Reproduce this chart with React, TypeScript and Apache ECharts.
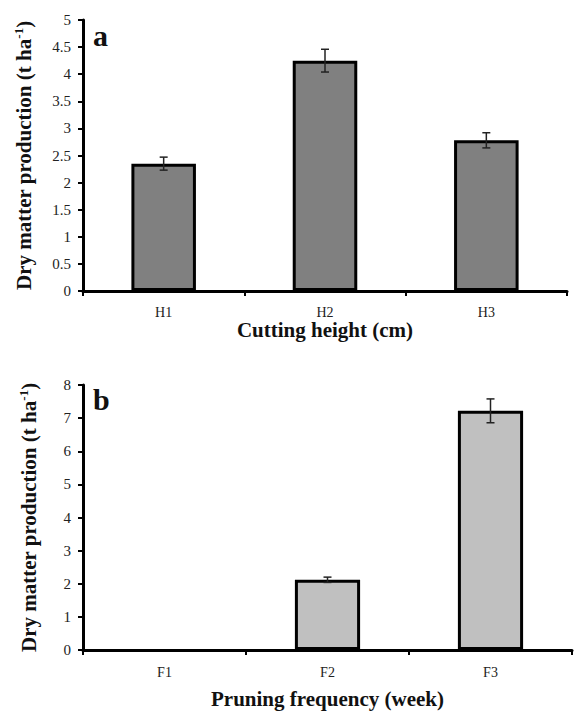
import React, { useEffect, useRef } from "react";
import * as echarts from "echarts";

const catsA = ["H1", "H2", "H3"];
const valsA = [2.35, 4.25, 2.78];
const errsA = [0.12, 0.21, 0.14];

const catsB = ["F1", "F2", "F3"];
const valsB = [0, 2.12, 7.22];
const errsB = [0, 0.08, 0.36];

const yTitle = "Dry matter production (t ha{sup|-1})";
const xTitleA = "Cutting height (cm)";
const xTitleB = "Pruning frequency (week)";

const FONT = "Liberation Serif";

export default function App() {
  const ref = useRef<HTMLDivElement>(null);
  useEffect(() => {
    document.body.style.margin = "0";
    const chart = echarts.init(ref.current!, null, { renderer: "svg" });
    const errRender = (params: any, api: any) => {
      const idx = api.value(0);
      const v = api.value(1);
      const e = api.value(2);
      if (!e) return null;
      const top = api.coord([idx, v + e]);
      const bot = api.coord([idx, v - e]);
      const w = 4;
      const st = { stroke: "#222", lineWidth: 1.5 };
      return {
        type: "group",
        children: [
          { type: "line", shape: { x1: top[0], y1: top[1], x2: bot[0], y2: bot[1] }, style: st },
          { type: "line", shape: { x1: top[0] - w, y1: top[1], x2: top[0] + w, y2: top[1] }, style: st },
          { type: "line", shape: { x1: bot[0] - w, y1: bot[1], x2: bot[0] + w, y2: bot[1] }, style: st },
        ],
      };
    };
    const xAxisCommon = (cats: string[], gi: number, name: string, gap: number, lm: number) => ({
      type: "category",
      gridIndex: gi,
      data: cats,
      boundaryGap: true,
      axisLine: { lineStyle: { color: "#000", width: 3 } },
      axisTick: { show: true, length: 5, lineStyle: { color: "#000", width: 2 }, alignWithLabel: false },
      axisLabel: { color: "#222", fontFamily: FONT, fontSize: 14, margin: lm },
      name,
      nameLocation: "middle",
      nameGap: gap,
      nameTextStyle: { color: "#111", fontFamily: FONT, fontSize: 21, fontWeight: "bold" },
    });
    const yAxisCommon = (gi: number, max: number, interval: number, gap: number) => ({
      type: "value",
      gridIndex: gi,
      min: 0,
      max,
      interval,
      splitLine: { show: false },
      axisLine: { show: true, lineStyle: { color: "#000", width: 3 } },
      axisTick: { show: true, length: 5, lineStyle: { color: "#000", width: 2 } },
      axisLabel: { color: "#222", fontFamily: FONT, fontSize: 15, margin: 12 },
      name: yTitle,
      nameLocation: "middle",
      nameRotate: 90,
      nameGap: gap,
      nameTextStyle: {
        color: "#111",
        fontFamily: FONT,
        fontSize: 21,
        fontWeight: "bold",
        rich: {
          sup: { fontFamily: FONT, fontSize: 13, fontWeight: "bold", color: "#111", verticalAlign: "top", lineHeight: 24 },
        },
      },
    });
    chart.setOption({
      animation: false,
      textStyle: { fontFamily: FONT },
      grid: [
        { left: 83, top: 20, width: 484, height: 271 },
        { left: 83, top: 385, width: 489, height: 265 },
      ],
      xAxis: [xAxisCommon(catsA, 0, xTitleA, 27, 14), xAxisCommon(catsB, 1, xTitleB, 38, 15)],
      yAxis: [yAxisCommon(0, 5, 0.5, 47), yAxisCommon(1, 8, 1, 42)],
      series: [
        {
          type: "bar",
          xAxisIndex: 0,
          yAxisIndex: 0,
          data: valsA,
          barWidth: "40%",
          itemStyle: { color: "#808080", borderColor: "#000", borderWidth: 3 },
        },
        {
          type: "custom",
          xAxisIndex: 0,
          yAxisIndex: 0,
          data: valsA.map((v, i) => [i, v, errsA[i]]),
          renderItem: errRender,
          z: 10,
        },
        {
          type: "bar",
          xAxisIndex: 1,
          yAxisIndex: 1,
          data: valsB.map((v) => (v === 0 ? { value: v, itemStyle: { borderWidth: 0 } } : v)),
          barWidth: "40%",
          itemStyle: { color: "#c0c0c0", borderColor: "#000", borderWidth: 3 },
        },
        {
          type: "custom",
          xAxisIndex: 1,
          yAxisIndex: 1,
          data: valsB.map((v, i) => [i, v, errsB[i]]),
          renderItem: errRender,
          z: 10,
        },
      ],
      graphic: [
        { type: "text", left: 93, top: 20, style: { text: "a", fontFamily: FONT, fontSize: 30, fontWeight: "bold", fill: "#111" } },
        { type: "text", left: 93, top: 384, style: { text: "b", fontFamily: FONT, fontSize: 30, fontWeight: "bold", fill: "#111" } },
      ],
    });
    return () => chart.dispose();
  }, []);
  return <div ref={ref} style={{ width: 575, height: 715 }} />;
}
